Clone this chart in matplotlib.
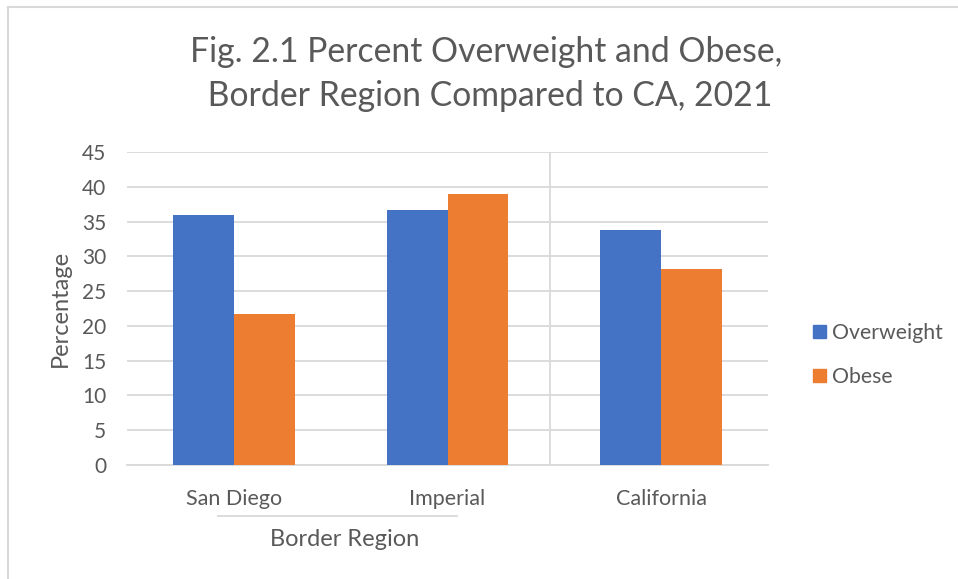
import numpy as np
import matplotlib
matplotlib.use('Agg')
import matplotlib.pyplot as plt
from matplotlib.patches import Patch
from matplotlib.lines import Line2D

plt.rcParams['font.family'] = ['Lato', 'DejaVu Sans']

# データ
categories = ['San Diego', 'Imperial', 'California']
overweight = [36.0, 36.7, 33.8]
obese = [21.7, 38.9, 28.2]
series_names = ['Overweight', 'Obese']
yticks = [0, 5, 10, 15, 20, 25, 30, 35, 40, 45]
TITLE = 'Fig. 2.1 Percent Overweight and Obese,\n Border Region Compared to CA, 2021'

BLUE = '#4472c4'
ORANGE = '#ed7d31'
GRID = '#d9d9d9'
TXT = '#595959'

W, H = 958, 579
fig = plt.figure(figsize=(W / 100, H / 100), dpi=100)

# 外枠（左と上だけ見えている）
fig.add_artist(Line2D([8 / W, 8 / W], [0, 1 - 7 / H], color=GRID, lw=1.5))
fig.add_artist(Line2D([8 / W, 1], [1 - 7 / H, 1 - 7 / H], color=GRID, lw=1.5))

ax = fig.add_axes([127 / W, 114 / H, 641 / W, 313 / H])

x = np.arange(len(categories))
bw = 0.285
ax.bar(x - bw / 2, overweight, bw, color=BLUE, label=series_names[0], zorder=3)
ax.bar(x + bw / 2, obese, bw, color=ORANGE, label=series_names[1], zorder=3)

ax.set_xlim(-0.5, 2.5)
ax.set_ylim(0, 45)
ax.set_yticks(yticks)
ax.yaxis.grid(True, color=GRID, lw=1.3, zorder=0)
ax.set_axisbelow(True)
for s in ['top', 'right', 'left']:
    ax.spines[s].set_visible(False)
ax.spines['bottom'].set_color(GRID)
ax.spines['bottom'].set_linewidth(1.3)
ax.tick_params(axis='y', length=0, pad=15, labelsize=15, labelcolor=TXT)
ax.set_xticks(x)
ax.set_xticklabels(categories)
ax.tick_params(axis='x', length=0, pad=17, labelsize=15.5, labelcolor=TXT)

# 区切り線（Border Region と California の間）
ax.axvline(1.5 - 0.02, color=GRID, lw=1.3, zorder=1)

# 多段ラベル
ax.plot([-0.074, 1.044], [-7.3, -7.3], color=GRID, lw=1.3, clip_on=False,
        transform=ax.transData)
ax.text(0.52, -10.7, 'Border Region', ha='center', va='center', fontsize=17,
        color=TXT)

ax.set_ylabel('Percentage', fontsize=17, color=TXT, labelpad=8)

fig.text(486 / W, 1 - 74 / H, TITLE, ha='center', va='center', fontsize=24.3,
         color=TXT, linespacing=1.45)

handles = [Patch(color=BLUE), Patch(color=ORANGE)]
fig.legend(handles, series_names, loc='center left',
           bbox_to_anchor=(794 / W, 1 - 355 / H), frameon=False, fontsize=15.3,
           labelcolor=TXT, handlelength=0.6, handleheight=0.6,
           handletextpad=0.3, labelspacing=1.15)

fig.savefig('out.png', dpi=100)
